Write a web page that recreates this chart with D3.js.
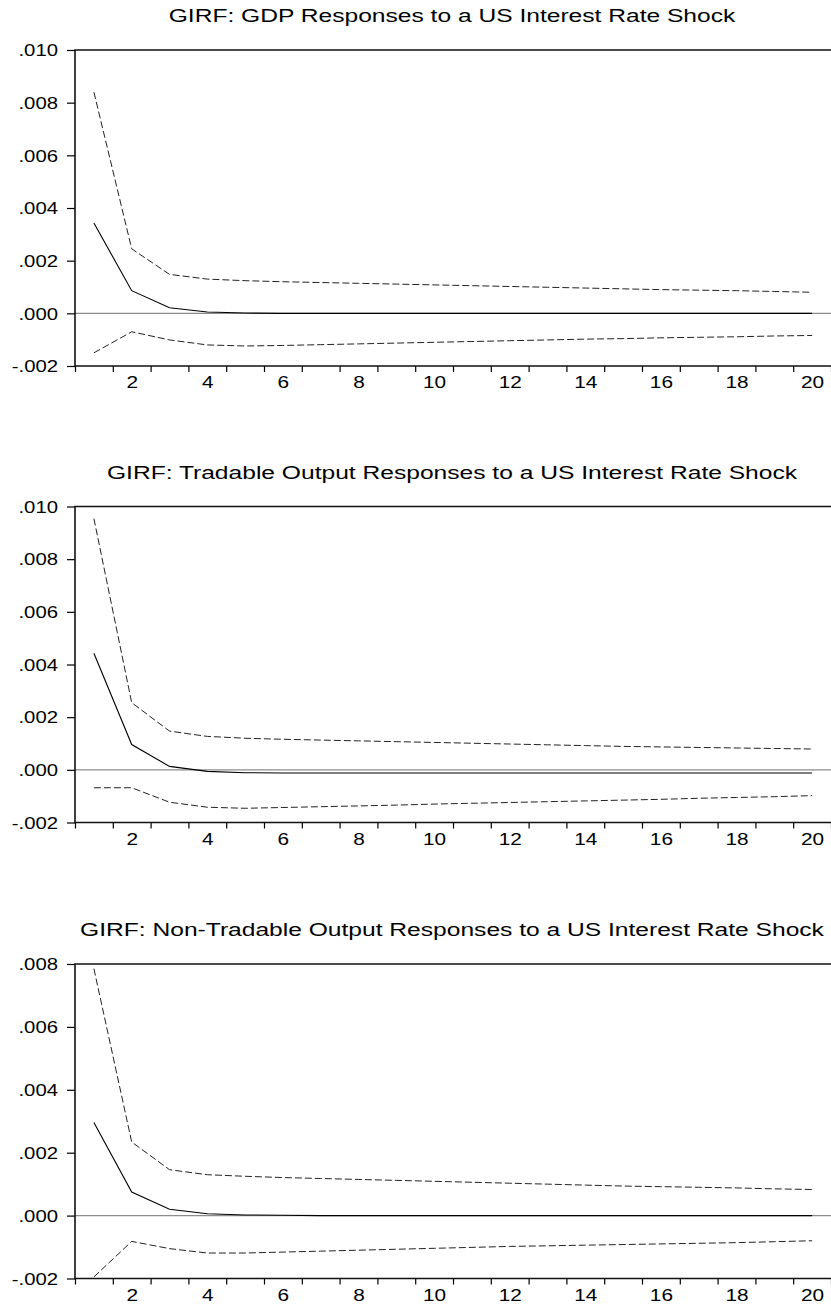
<!DOCTYPE html>
<html>
<head>
<meta charset="utf-8">
<script src="https://cdn.jsdelivr.net/npm/d3@7"></script>
<style>
  body{margin:0;background:#fff}
  svg{display:block}
  text{font-family:"Liberation Sans",Arial,sans-serif;fill:#000}
</style>
</head>
<body>
<div id="chart"></div>
<script>
// horizon (periods after the shock)
const periods=[1,2,3,4,5,6,7,8,9,10,11,12,13,14,15,16,17,18,19,20]
const xTickLabels=[2,4,6,8,10,12,14,16,18,20]

const titleGdp="GIRF: GDP Responses to a US Interest Rate Shock"
const titleTrad="GIRF: Tradable Output Responses to a US Interest Rate Shock"
const titleNon="GIRF: Non-Tradable Output Responses to a US Interest Rate Shock"

const yTicksGdp=[-0.002,0,0.002,0.004,0.006,0.008,0.010]
const yTicksTrad=[-0.002,0,0.002,0.004,0.006,0.008,0.010]
const yTicksNon=[-0.002,0,0.002,0.004,0.006,0.008]

// GDP
const gdpResp=[0.00343,0.00086,0.00021,0.00005,0.00001,0,0,0,0,0,0,0,0,0,0,0,0,0,0,0]
const gdpUpper=[0.0084,0.00245,0.00148,0.0013,0.00124,0.0012,0.00117,0.00114,0.00111,0.00108,0.00105,0.00102,0.00099,0.00096,0.00093,0.0009,0.00088,0.00086,0.00083,0.0008]
const gdpLower=[-0.0015,-0.0007,-0.00101,-0.0012,-0.00124,-0.00122,-0.00119,-0.00116,-0.00113,-0.0011,-0.00107,-0.00104,-0.00101,-0.00098,-0.00096,-0.00093,-0.00091,-0.00089,-0.00086,-0.00084]

// tradable output
const tradResp=[0.00443,0.00096,0.00013,-0.00006,-0.00011,-0.00012,-0.00012,-0.00012,-0.00012,-0.00012,-0.00012,-0.00012,-0.00012,-0.00012,-0.00012,-0.00012,-0.00012,-0.00012,-0.00012,-0.00012]
const tradUpper=[0.00954,0.00255,0.00147,0.00127,0.0012,0.00116,0.00113,0.0011,0.00107,0.00104,0.00101,0.00098,0.00095,0.00092,0.00089,0.00087,0.00085,0.00083,0.00081,0.00079]
const tradLower=[-0.00068,-0.00068,-0.00123,-0.00142,-0.00146,-0.00143,-0.0014,-0.00137,-0.00134,-0.0013,-0.00127,-0.00124,-0.00121,-0.00118,-0.00115,-0.00112,-0.00108,-0.00105,-0.00102,-0.00098]

// non-tradable output
const nonResp=[0.00296,0.00075,0.0002,0.00006,0.00002,0.00001,0,0,0,0,0,0,0,0,0,0,0,0,0,0]
const nonUpper=[0.00785,0.00234,0.00146,0.0013,0.00125,0.00121,0.00118,0.00115,0.00112,0.00109,0.00106,0.00103,0.001,0.00097,0.00094,0.00092,0.0009,0.00088,0.00085,0.00083]
const nonLower=[-0.00195,-0.00082,-0.00105,-0.00119,-0.00119,-0.00116,-0.00113,-0.0011,-0.00107,-0.00104,-0.00101,-0.00098,-0.00096,-0.00094,-0.00092,-0.0009,-0.00088,-0.00086,-0.00083,-0.0008]

const W=831, H=1306
const left=75, plotW=756

const panels=[
  {title:titleGdp, ticks:yTicksGdp, resp:gdpResp, up:gdpUpper, lo:gdpLower, top:50, h:316},
  {title:titleTrad, ticks:yTicksTrad, resp:tradResp, up:tradUpper, lo:tradLower, top:506.5, h:316},
  {title:titleNon, ticks:yTicksNon, resp:nonResp, up:nonUpper, lo:nonLower, top:964, h:314.5}
]

const svg=d3.select("#chart").append("svg")
  .attr("width",W).attr("height",H)

// value labels look like eviews: .004 / -.002
const fmt=v=>{
  let s=d3.format(".3f")(Math.abs(v)).replace(/^0/,"")
  return (v<-1e-12?"-":"")+s
}

// eviews text is drawn horizontally stretched
const SX=1.3

const x=d3.scaleLinear().domain([0.5,20.5]).range([0,plotW])

panels.forEach(p=>{
  const g=svg.append("g").attr("transform",`translate(${left},${p.top})`)
  const y=d3.scaleLinear()
    .domain(d3.extent(p.ticks))
    .range([p.h,0])

  // title
  g.append("text")
    .attr("transform",`translate(${plotW/2-1},-28) scale(1.33,1)`)
    .attr("text-anchor","middle")
    .style("font-size","18.5px")
    .text(p.title)

  // zero line
  g.append("line")
    .attr("x1",0).attr("x2",plotW)
    .attr("y1",y(0)).attr("y2",y(0))
    .attr("stroke","#8c8c8c").attr("stroke-width",1.2)

  // y axis
  const yAxis=d3.axisLeft(y).tickValues(p.ticks).tickFormat(fmt).tickSize(8)
  const ya=g.append("g").call(yAxis)
  ya.select(".domain").remove()
  ya.selectAll(".tick line").attr("stroke","#000").attr("stroke-width",1.2)
  ya.selectAll(".tick text")
    .attr("x",0).attr("dy","0.36em")
    .attr("transform",`translate(-17,0) scale(${SX-0.03},1)`)
    .style("font-size","16px")
    .attr("font-family",null)

  // x axis: ticks on period boundaries, labels on even periods
  const bounds=periods.map(d=>d-0.5).concat([20.5])
  const xa=g.append("g").attr("transform",`translate(0,${p.h})`)
    .call(d3.axisBottom(x).tickValues(bounds).tickFormat("").tickSize(6))
  xa.select(".domain").remove()
  xa.selectAll(".tick line").attr("stroke","#000").attr("stroke-width",1.2)

  const xl=g.append("g").attr("transform",`translate(0,${p.h})`)
    .call(d3.axisBottom(x).tickValues(xTickLabels).tickSize(0))
  xl.select(".domain").remove()
  xl.selectAll(".tick text")
    .attr("y",0).attr("dy",0)
    .attr("transform",`translate(0,22) scale(${SX},1)`)
    .style("font-size","16px")
    .attr("font-family",null)

  // frame (left, top, bottom)
  g.append("path")
    .attr("d",`M${plotW},0H0V${p.h}H${plotW}`)
    .attr("fill","none").attr("stroke","#111").attr("stroke-width",1.6)

  const line=d3.line().x((d,i)=>x(periods[i])).y(d=>y(d))

  // confidence bands
  ;[p.up,p.lo].forEach(s=>{
    g.append("path").datum(s)
      .attr("d",line)
      .attr("fill","none")
      .attr("stroke","#222")
      .attr("stroke-width",1)
      .attr("stroke-dasharray","7,3")
  })

  // point estimate
  g.append("path").datum(p.resp)
    .attr("d",line)
    .attr("fill","none")
    .attr("stroke","#000")
    .attr("stroke-width",1.1)
})
</script>
</body>
</html>
